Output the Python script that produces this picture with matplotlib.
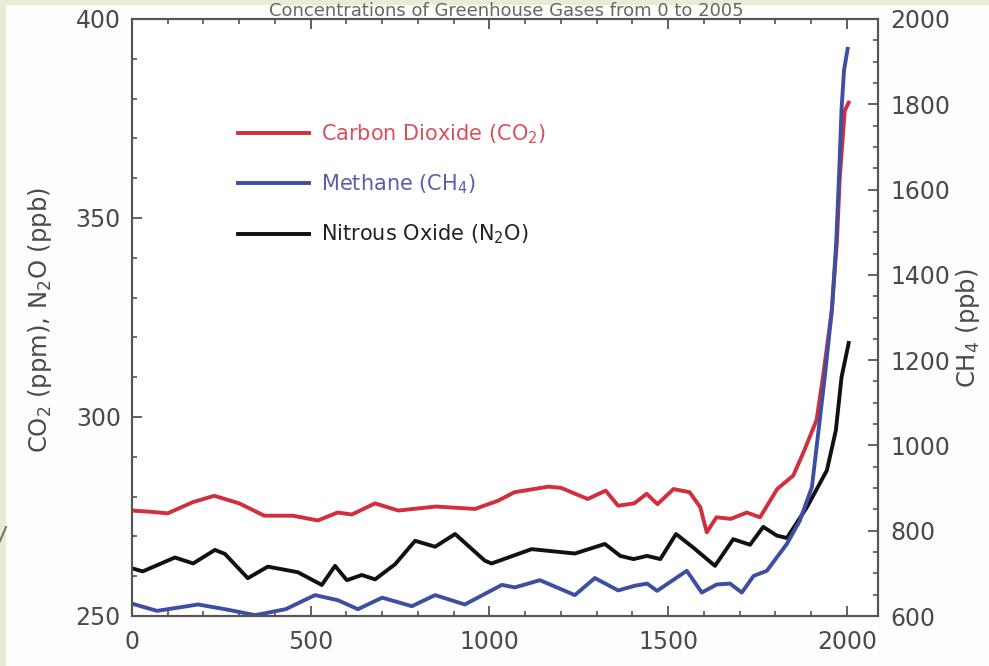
import matplotlib
matplotlib.use("Agg")
import matplotlib.pyplot as plt
from matplotlib.ticker import MultipleLocator
from matplotlib.patches import Rectangle
from matplotlib.lines import Line2D

plt.rcParams['font.family'] = ['DejaVu Sans']
plt.rcParams['mathtext.default'] = 'regular'

# ---- data ----
co2_years = [0, 50, 100, 170, 230, 300, 370, 450, 520, 575, 615, 680, 745, 850, 960,
             1025, 1070, 1165, 1200, 1275, 1325, 1360, 1405, 1440, 1470, 1515, 1560,
             1590, 1608, 1635, 1675, 1720, 1757, 1805, 1850, 1877, 1915, 1933, 1958,
             1972, 1980, 1994, 2005]
co2_vals = [276.5, 276.2, 275.8, 278.6, 280.2, 278.3, 275.2, 275.2, 274.0, 276.0, 275.5,
            278.3, 276.5, 277.5, 276.9, 279.0, 281.1, 282.5, 282.2, 279.4, 281.5, 277.7,
            278.3, 280.7, 278.1, 281.9, 281.1, 277.3, 271.0, 274.8, 274.4, 276.0, 274.8,
            281.9, 285.3, 290.8, 299.2, 310, 327, 344, 360, 377, 379]

ch4_years = [0, 70, 185, 260, 345, 430, 512, 576, 632, 700, 783, 848, 931, 1035, 1071,
             1141, 1239, 1295, 1360, 1407, 1441, 1469, 1552, 1594, 1636, 1673, 1706,
             1739, 1776, 1832, 1868, 1902, 1924, 1938, 1958, 1970, 1978, 1985, 1992, 2002]
ch4_vals = [629, 612, 627, 616, 602, 616, 649, 637, 616, 643, 623, 649, 627, 673, 667,
            684, 649, 689, 660, 671, 676, 659, 706, 655, 674, 676, 655, 694, 706, 769,
            823, 902, 1059, 1160, 1318, 1475, 1631, 1788, 1880, 1930]

n2o_years = [0, 30, 120, 171, 232, 260, 324, 380, 464, 531, 568, 601, 643, 680, 736, 792,
             848, 904, 987, 1006, 1118, 1239, 1323, 1366, 1403, 1441, 1478, 1522, 1570,
             1631, 1682, 1729, 1766, 1804, 1832, 1888, 1944, 1969, 1985, 2005]
n2o_vals = [262, 261.2, 264.7, 263.2, 266.6, 265.6, 259.5, 262.4, 261, 257.8, 262.6, 259,
            260.3, 259.2, 263, 268.9, 267.4, 270.6, 263.9, 263.2, 266.8, 265.7, 268.1,
            265.1, 264.3, 265.1, 264.3, 270.6, 267.2, 262.6, 269.3, 267.9, 272.4, 270.2,
            269.6, 277.3, 286.6, 296.6, 310, 318.6]

labels = ['Carbon Dioxide (CO$_2$)', 'Methane (CH$_4$)', 'Nitrous Oxide (N$_2$O)']
title = 'Concentrations of Greenhouse Gases from 0 to 2005'

# ---- figure ----
W, H = 989, 666
fig = plt.figure(figsize=(W / 100, H / 100), dpi=100, facecolor='#fdfdfd')

# slide background strips
fig.patches.append(Rectangle((0, 0), 6 / W, 1, transform=fig.transFigure,
                             facecolor='#e8ecd5', edgecolor='none', zorder=0))
fig.patches.append(Rectangle((0, 1 - 5 / H), 1, 5 / H, transform=fig.transFigure,
                             facecolor='#e8ecd5', edgecolor='none', zorder=0))
fig.lines.append(Line2D([0, 6 / W], [1 - 541 / H, 1 - 527 / H], transform=fig.transFigure,
                        color='#7a7658', lw=1.5))

ax = fig.add_axes([132 / W, 1 - 616 / H, 746 / W, 597 / H])
ax2 = ax.twinx()

red = '#d22e3e'
blue = '#3e4ea0'
black = '#111111'

l1, = ax.plot(co2_years, co2_vals, color=red, lw=2.8, solid_joinstyle='round')
l3, = ax.plot(n2o_years, n2o_vals, color=black, lw=2.8, solid_joinstyle='round')
l2, = ax2.plot(ch4_years, ch4_vals, color=blue, lw=2.8, solid_joinstyle='round')

ax.set_xlim(0, 2087)
ax.set_ylim(250, 400)
ax2.set_ylim(600, 2000)

tick_col = '#4a4a4a'
for a in (ax, ax2):
    for s in a.spines.values():
        s.set_color('#555555')
        s.set_linewidth(1.5)

ax.xaxis.set_major_locator(MultipleLocator(500))
ax.xaxis.set_minor_locator(MultipleLocator(100))
ax.yaxis.set_major_locator(MultipleLocator(50))
ax.yaxis.set_minor_locator(MultipleLocator(10))
ax2.yaxis.set_major_locator(MultipleLocator(200))
ax2.yaxis.set_minor_locator(MultipleLocator(50))

ax.tick_params(axis='x', which='both', direction='in', top=True, bottom=True,
               colors='#555555', labelcolor=tick_col, labelsize=17, pad=10)
ax.tick_params(axis='y', which='both', direction='in', left=True, right=False,
               colors='#555555', labelcolor=tick_col, labelsize=17, pad=8)
ax2.tick_params(axis='y', which='both', direction='in', right=True, left=False,
                colors='#555555', labelcolor=tick_col, labelsize=17, pad=9)
for a in (ax, ax2):
    a.tick_params(which='major', length=7, width=1.3)
    a.tick_params(which='minor', length=3.5, width=1.2)

fig.text(40 / W, 1 - 320 / H, 'CO$_2$ (ppm), N$_2$O (ppb)', rotation=90,
         ha='center', va='center', fontsize=17.5, color=tick_col)
fig.text(968 / W, 1 - 328 / H, 'CH$_4$ (ppb)', rotation=90,
         ha='center', va='center', fontsize=17.5, color=tick_col)

fig.text(506 / W, 1 - 16 / H, title, ha='center', va='baseline', fontsize=13,
         color='#666666')

leg = ax.legend([l1, l2, l3], labels, loc='upper left',
                bbox_to_anchor=(0.142, 0.827), frameon=False, fontsize=15,
                handlelength=3.4, handletextpad=0.6, labelspacing=1.28,
                borderpad=0, borderaxespad=0)
for t, c in zip(leg.get_texts(), ['#d9505c', '#5560a8', '#222222']):
    t.set_color(c)

fig.savefig('out.png', dpi=100, facecolor=fig.get_facecolor())
